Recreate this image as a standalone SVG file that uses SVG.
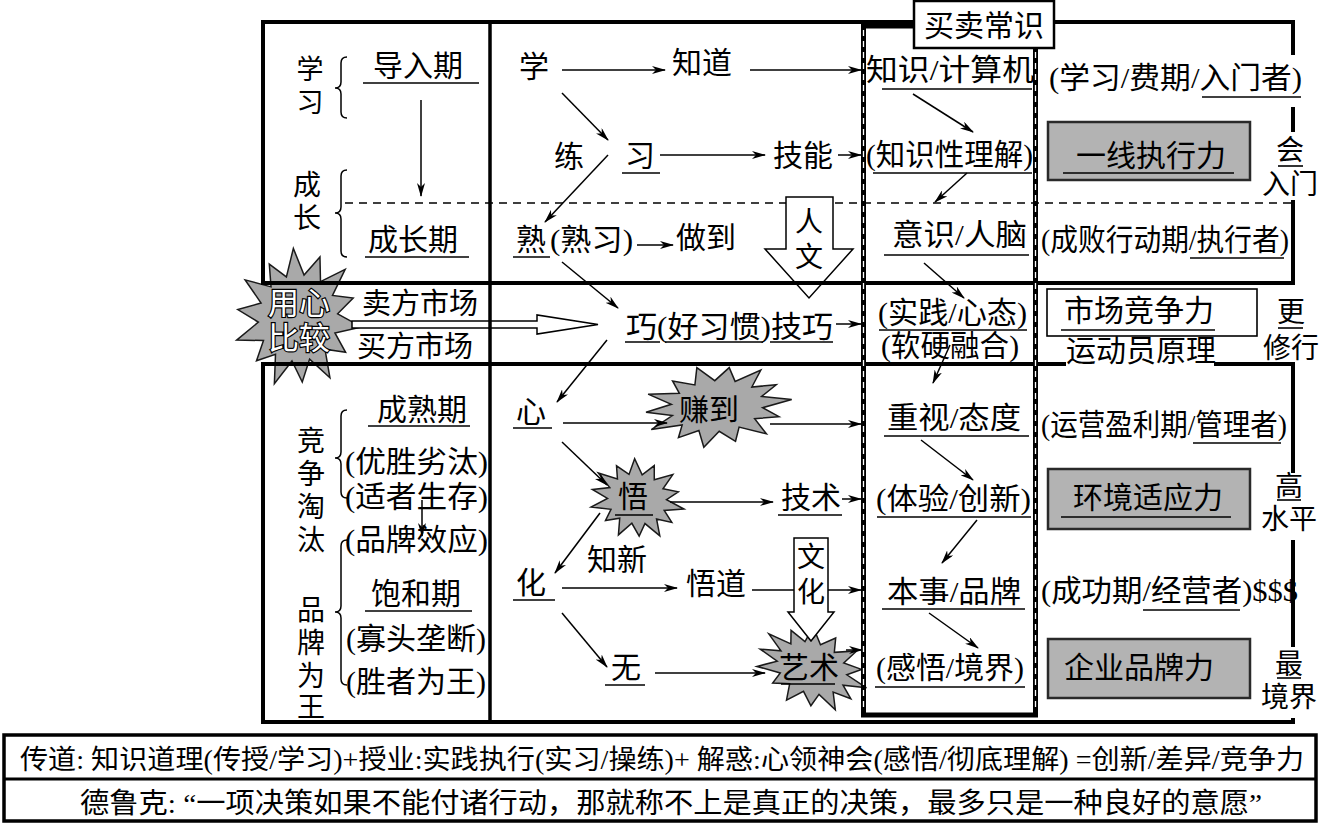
<svg xmlns="http://www.w3.org/2000/svg" xmlns:xlink="http://www.w3.org/1999/xlink" width="1321" height="824" viewBox="0 0 1321 824">
<style>
.t{font-family:'Liberation Serif','Noto Sans CJK SC',serif;font-size:30px;fill:#000}
.s28{font-size:28px}
.m{text-anchor:middle}
.ul{stroke:#000;stroke-width:1.6}
.cn{stroke:#000;stroke-width:1.5;fill:none;marker-end:url(#ah)}
.fr{stroke:#000;stroke-width:4;fill:none}
.burst{fill:#a9a9a9;stroke:#1a1a1a;stroke-width:1.5}
.gbox{fill:#b3b3b3;stroke:#2a2a2a;stroke-width:2.5}
.wbox{fill:#fff;stroke:#000;stroke-width:1.6}
.brace{fill:none;stroke:#000;stroke-width:1.5}
.outl{fill:#fff;stroke:#000;stroke-width:2.4;paint-order:stroke}
</style>
<defs>
<marker id="ah" viewBox="0 0 14 8" refX="13" refY="4" markerWidth="14" markerHeight="8" markerUnits="userSpaceOnUse" orient="auto"><path d="M0,0 L14,4 L0,8 L4,4 z" fill="#000"/></marker>
<path id="star" vector-effect="non-scaling-stroke" d="M1,0 L0.604,0.138 L0.811,0.391 L0.485,0.387 L0.624,0.782 L0.269,0.559 L0.205,0.897 L0,0.62 L-0.223,0.975 L-0.269,0.559 L-0.549,0.688 L-0.485,0.387 L-0.901,0.434 L-0.604,0.138 L-0.95,0 L-0.604,-0.138 L-0.901,-0.434 L-0.485,-0.387 L-0.561,-0.704 L-0.269,-0.559 L-0.223,-0.975 L0,-0.62 L0.207,-0.907 L0.269,-0.559 L0.624,-0.782 L0.485,-0.387 L0.811,-0.391 L0.604,-0.138 Z"/>
</defs>
<rect width="1321" height="824" fill="#fff"/>

<g id="dashed-divider">
<line x1="345" y1="203" x2="1293" y2="203" stroke="#000" stroke-width="1.5" stroke-dasharray="8,6"/>
</g>

<g id="node-yongxin">
<use xlink:href="#star" class="burst" transform="translate(298,318) rotate(8) scale(64,70)"/>
<text class="t m outl" x="299" y="314" style="font-size:31px">用心</text>
<text class="t m outl" x="299" y="349" style="font-size:31px">比较</text>
</g>

<g id="node-market">
<polygon points="352,321 537,321 537,315 598,324.5 537,334 537,328 352,328" fill="#fff" stroke="#000" stroke-width="1.5"/>
<text class="t m" x="420" y="314" style="font-size:29px">卖方市场</text>
<text class="t m" x="415" y="357" style="font-size:29px">买方市场</text>
</g>

<g id="node-zhuandao">
<use xlink:href="#star" class="burst" transform="translate(717,406) rotate(-5) scale(75,41)"/>
<text class="t m" x="709" y="420">赚到</text>
</g>
<g id="node-wu">
<use xlink:href="#star" class="burst" transform="translate(637,499) rotate(12) scale(48,40)"/>
<text class="t m" x="633" y="507">悟</text>
<line class="ul" x1="615" y1="515" x2="653" y2="515"/>
</g>
<g id="node-yishu">
<use xlink:href="#star" class="burst" transform="translate(812,668) rotate(20) scale(58,40)"/>
<text class="t m" x="809" y="678">艺术</text>
<line class="ul" x1="781" y1="684" x2="835" y2="684"/>
</g>

<g id="connectors">
<line class="cn" x1="421" y1="100" x2="421" y2="196"/>
<line class="cn" x1="422" y1="500" x2="422" y2="536"/>
<line class="cn" x1="562" y1="70" x2="665" y2="70"/>
<line class="cn" x1="750" y1="70" x2="861" y2="70"/>
<line class="cn" x1="562" y1="93" x2="608" y2="140"/>
<line class="cn" x1="608" y1="155" x2="545" y2="222"/>
<line class="cn" x1="660" y1="155" x2="765" y2="155"/>
<line class="cn" x1="838" y1="155" x2="861" y2="155"/>
<line class="cn" x1="637" y1="245" x2="673" y2="245"/>
<line class="cn" x1="562" y1="262" x2="618" y2="308"/>
<line class="cn" x1="607" y1="340" x2="557" y2="402"/>
<line class="cn" x1="836" y1="324" x2="861" y2="324"/>
<line class="cn" x1="563" y1="423" x2="667" y2="423"/>
<line class="cn" x1="770" y1="424" x2="861" y2="424"/>
<line class="cn" x1="562" y1="442" x2="607" y2="485"/>
<line class="cn" x1="670" y1="502" x2="773" y2="502"/>
<line class="cn" x1="842" y1="499" x2="861" y2="499"/>
<line class="cn" x1="600" y1="513" x2="555" y2="573"/>
<line class="cn" x1="562" y1="588" x2="677" y2="588"/>
<line class="cn" x1="752" y1="590" x2="861" y2="590"/>
<line class="cn" x1="562" y1="613" x2="607" y2="667"/>
<line class="cn" x1="655" y1="673" x2="765" y2="673"/>
<line class="cn" x1="846" y1="650" x2="862" y2="650"/>
<line class="cn" x1="913" y1="94" x2="973" y2="132"/>
<line class="cn" x1="967" y1="173" x2="935" y2="202"/>
<line class="cn" x1="924" y1="263" x2="964" y2="298"/>
<line class="cn" x1="950" y1="345" x2="933" y2="383"/>
<line class="cn" x1="921" y1="440" x2="973" y2="480"/>
<line class="cn" x1="977" y1="520" x2="942" y2="563"/>
<line class="cn" x1="929" y1="613" x2="978" y2="648"/>
</g>

<g id="node-renwen">
<polygon points="786,197 833,197 833,249 853,249 809,298 765,249 786,249" fill="#fff" stroke="#000" stroke-width="1.5"/>
<text class="t m s28" x="809" y="232">人</text>
<text class="t m s28" x="809" y="267">文</text>
</g>
<g id="node-wenhua">
<polygon points="794,538 828,538 828,612 834,612 811,641 788,612 794,612" fill="#fff" stroke="#000" stroke-width="1.5"/>
<text class="t m s28" x="811" y="567">文</text>
<text class="t m s28" x="811" y="602">化</text>
</g>

<g id="frame">
<line class="fr" x1="261" y1="22" x2="1295" y2="22"/>
<line class="fr" x1="263" y1="20" x2="263" y2="285"/>
<line class="fr" x1="261" y1="283" x2="1295" y2="283"/>
<line class="fr" x1="261" y1="364" x2="1066" y2="364"/>
<line class="fr" x1="1214" y1="364" x2="1295" y2="364"/>
<line class="fr" x1="263" y1="362" x2="263" y2="724"/>
<line class="fr" x1="261" y1="722" x2="1295" y2="722"/>
<line class="fr" x1="490" y1="20" x2="490" y2="724" style="stroke-width:3.5"/>
<line class="fr" x1="1293" y1="20" x2="1293" y2="55"/>
<line class="fr" x1="1293" y1="107" x2="1293" y2="132"/>
<line class="fr" x1="1293" y1="200" x2="1293" y2="285"/>
<line class="fr" x1="1293" y1="362" x2="1293" y2="473"/>
<line class="fr" x1="1293" y1="540" x2="1293" y2="647"/>
<line class="fr" x1="1293" y1="718" x2="1293" y2="724"/>
<rect x="863.5" y="26" width="172" height="689" fill="none" stroke="#000" stroke-width="5"/>
<line x1="863.5" y1="30" x2="863.5" y2="712" stroke="#fff" stroke-width="1.3" stroke-dasharray="6,5"/>
<line x1="1035.5" y1="30" x2="1035.5" y2="712" stroke="#fff" stroke-width="1.3" stroke-dasharray="6,5"/>
<path class="brace" d="M347,57 Q341,57 341,63 L341,82 Q341,88 335,88 Q341,88 341,94 L341,112 Q341,118 347,118"/>
<path class="brace" d="M347,170 Q341,170 341,176 L341,207 Q341,213 335,213 Q341,213 341,219 L341,251 Q341,257 347,257"/>
<path class="brace" d="M347,410 Q341,410 341,416 L341,452 Q341,458 335,458 Q341,458 341,464 L341,492 Q341,498 347,498"/>
<path class="brace" d="M347,540 Q341,540 341,546 L341,606 Q341,612 335,612 Q341,612 341,618 L341,679 Q341,685 347,685"/>
</g>

<g id="node-maimai">
<rect x="914" y="1" width="140" height="47" fill="#fff" stroke="#000" stroke-width="2.5"/>
<text class="t m" x="984" y="36">买卖常识</text>
</g>

<g id="node-stages">
<text class="t m" x="310" y="79" style="font-size:27px">学</text>
<text class="t m" x="310" y="112" style="font-size:27px">习</text>
<text class="t m" x="418" y="76">导入期</text>
<line class="ul" x1="363" y1="83" x2="479" y2="83"/>
<text class="t m s28" x="307" y="195">成</text>
<text class="t m s28" x="307" y="228">长</text>
<text class="t m" x="413" y="250">成长期</text>
<line class="ul" x1="365" y1="257" x2="469" y2="257"/>
<text class="t m" x="422" y="420">成熟期</text>
<line class="ul" x1="368" y1="426" x2="470" y2="426"/>
<text class="t m s28" x="311" y="451">竞</text>
<text class="t m s28" x="311" y="484">争</text>
<text class="t m s28" x="311" y="517">淘</text>
<text class="t m s28" x="311" y="550">汰</text>
<text class="t" x="345" y="472" textLength="143" lengthAdjust="spacingAndGlyphs">(优胜劣汰)</text>
<text class="t" x="345" y="507" textLength="143" lengthAdjust="spacingAndGlyphs">(适者生存)</text>
<text class="t" x="345" y="550" textLength="143" lengthAdjust="spacingAndGlyphs">(品牌效应)</text>
<text class="t m" x="416" y="604">饱和期</text>
<line class="ul" x1="365" y1="611" x2="472" y2="611"/>
<text class="t" x="346" y="649" textLength="140" lengthAdjust="spacingAndGlyphs">(寡头垄断)</text>
<text class="t" x="346" y="692" textLength="140" lengthAdjust="spacingAndGlyphs">(胜者为王)</text>
<text class="t m s28" x="311" y="620">品</text>
<text class="t m s28" x="311" y="653">牌</text>
<text class="t m s28" x="311" y="686">为</text>
<text class="t m s28" x="311" y="717">王</text>
</g>

<g id="node-learning">
<text class="t m" x="534" y="77">学</text>
<text class="t m" x="702" y="73">知道</text>
<text class="t m" x="569" y="167">练</text>
<text class="t m" x="640" y="166">习</text>
<line class="ul" x1="622" y1="173" x2="660" y2="173"/>
<text class="t m" x="803" y="166">技能</text>
<text class="t m" x="531" y="250">熟</text>
<line class="ul" x1="513" y1="257" x2="550" y2="257"/>
<text class="t" x="550" y="250" textLength="83" lengthAdjust="spacingAndGlyphs">(熟习)</text>
<text class="t m" x="706" y="248">做到</text>
<text class="t" x="626" y="337" textLength="207" lengthAdjust="spacingAndGlyphs">巧(好习惯)技巧</text>
<line class="ul" x1="625" y1="342" x2="660" y2="342"/>
<line class="ul" x1="665" y1="342" x2="763" y2="342"/>
<line class="ul" x1="770" y1="342" x2="833" y2="342"/>
<text class="t m" x="531" y="422">心</text>
<line class="ul" x1="513" y1="428" x2="552" y2="428"/>
<text class="t m" x="811" y="508">技术</text>
<line class="ul" x1="778" y1="515" x2="842" y2="515"/>
<text class="t m" x="617" y="570">知新</text>
<text class="t m" x="531" y="593">化</text>
<line class="ul" x1="513" y1="600" x2="555" y2="600"/>
<text class="t m" x="716" y="594">悟道</text>
<text class="t m" x="626" y="678">无</text>
<line class="ul" x1="605" y1="685" x2="645" y2="685"/>
</g>

<g id="node-knowledge">
<text class="t" x="866" y="80" textLength="168" lengthAdjust="spacingAndGlyphs">知识/计算机</text>
<line class="ul" x1="882" y1="89" x2="1032" y2="89"/>
<text class="t" x="866" y="165" textLength="167" lengthAdjust="spacingAndGlyphs">(知识性理解)</text>
<line class="ul" x1="873" y1="173" x2="1032" y2="173"/>
<text class="t" x="892" y="245" textLength="135" lengthAdjust="spacingAndGlyphs">意识/人脑</text>
<line class="ul" x1="884" y1="255" x2="1029" y2="255"/>
<text class="t" x="878" y="323" textLength="149" lengthAdjust="spacingAndGlyphs">(实践/心态)</text>
<line class="ul" x1="879" y1="330" x2="1027" y2="330"/>
<text class="t" x="881" y="356" textLength="138" lengthAdjust="spacingAndGlyphs">(软硬融合)</text>
<text class="t" x="887" y="428" textLength="134" lengthAdjust="spacingAndGlyphs">重视/态度</text>
<line class="ul" x1="884" y1="436" x2="1029" y2="436"/>
<text class="t" x="876" y="509" textLength="155" lengthAdjust="spacingAndGlyphs">(体验/创新)</text>
<line class="ul" x1="877" y1="517" x2="1031" y2="517"/>
<text class="t" x="887" y="602" textLength="134" lengthAdjust="spacingAndGlyphs">本事/品牌</text>
<line class="ul" x1="882" y1="609" x2="1025" y2="609"/>
<text class="t" x="876" y="678" textLength="148" lengthAdjust="spacingAndGlyphs">(感悟/境界)</text>
<line class="ul" x1="875" y1="687" x2="1025" y2="687"/>
</g>

<g id="node-roles">
<text class="t" x="1049" y="88" textLength="253" lengthAdjust="spacingAndGlyphs">(学习/费期/入门者)</text>
<line class="ul" x1="1202" y1="97" x2="1301" y2="97"/>
<rect class="gbox" x="1048" y="122" width="202" height="58"/>
<text class="t m" x="1151" y="166">一线执行力</text>
<line class="ul" x1="1063" y1="173" x2="1234" y2="173"/>
<text class="t m s28" x="1290" y="160">会</text>
<line class="ul" x1="1278" y1="166" x2="1303" y2="166"/>
<text class="t m s28" x="1290" y="194">入门</text>
<text class="t" x="1041" y="250" textLength="248" lengthAdjust="spacingAndGlyphs">(成败行动期/执行者)</text>
<line class="ul" x1="1190" y1="258" x2="1284" y2="258"/>
<rect class="wbox" x="1047" y="289" width="210" height="47"/>
<text class="t m" x="1139" y="321">市场竞争力</text>
<line class="ul" x1="1061" y1="330" x2="1215" y2="330"/>
<text class="t m" x="1141" y="361">运动员原理</text>
<text class="t m s28" x="1291" y="322">更</text>
<line class="ul" x1="1278" y1="328" x2="1303" y2="328"/>
<text class="t m s28" x="1291" y="358">修行</text>
<text class="t" x="1041" y="435" textLength="246" lengthAdjust="spacingAndGlyphs">(运营盈利期/管理者)</text>
<line class="ul" x1="1193" y1="443" x2="1281" y2="443"/>
<rect class="gbox" x="1048" y="469" width="202" height="60"/>
<text class="t m" x="1148" y="508">环境适应力</text>
<line class="ul" x1="1061" y1="517" x2="1231" y2="517"/>
<text class="t m s28" x="1289" y="496">高</text>
<line class="ul" x1="1277" y1="500" x2="1301" y2="500"/>
<text class="t m s28" x="1289" y="529">水平</text>
<text class="t" x="1041" y="601" textLength="257" lengthAdjust="spacingAndGlyphs">(成功期/经营者)$$$</text>
<line class="ul" x1="1143" y1="610" x2="1240" y2="610"/>
<rect class="gbox" x="1048" y="639" width="202" height="59"/>
<text class="t m" x="1139" y="678">企业品牌力</text>
<text class="t m s28" x="1289" y="674">最</text>
<line class="ul" x1="1277" y1="678" x2="1301" y2="678"/>
<text class="t m s28" x="1289" y="707">境界</text>
</g>

<g id="node-footer">
<rect x="4" y="735" width="1312" height="86" fill="none" stroke="#000" stroke-width="3.5"/>
<line x1="4" y1="779" x2="1316" y2="779" stroke="#000" stroke-width="3"/>
<text class="t" x="20" y="769" textLength="1284" lengthAdjust="spacingAndGlyphs" style="font-size:27px">传道: 知识道理(传授/学习)+授业:实践执行(实习/操练)+ 解惑:心领神会(感悟/彻底理解) =创新/差异/竞争力</text>
<text class="t" x="80" y="813" textLength="1182" lengthAdjust="spacingAndGlyphs" style="font-size:28px">德鲁克: “一项决策如果不能付诸行动，那就称不上是真正的决策，最多只是一种良好的意愿”</text>
</g>
</svg>
